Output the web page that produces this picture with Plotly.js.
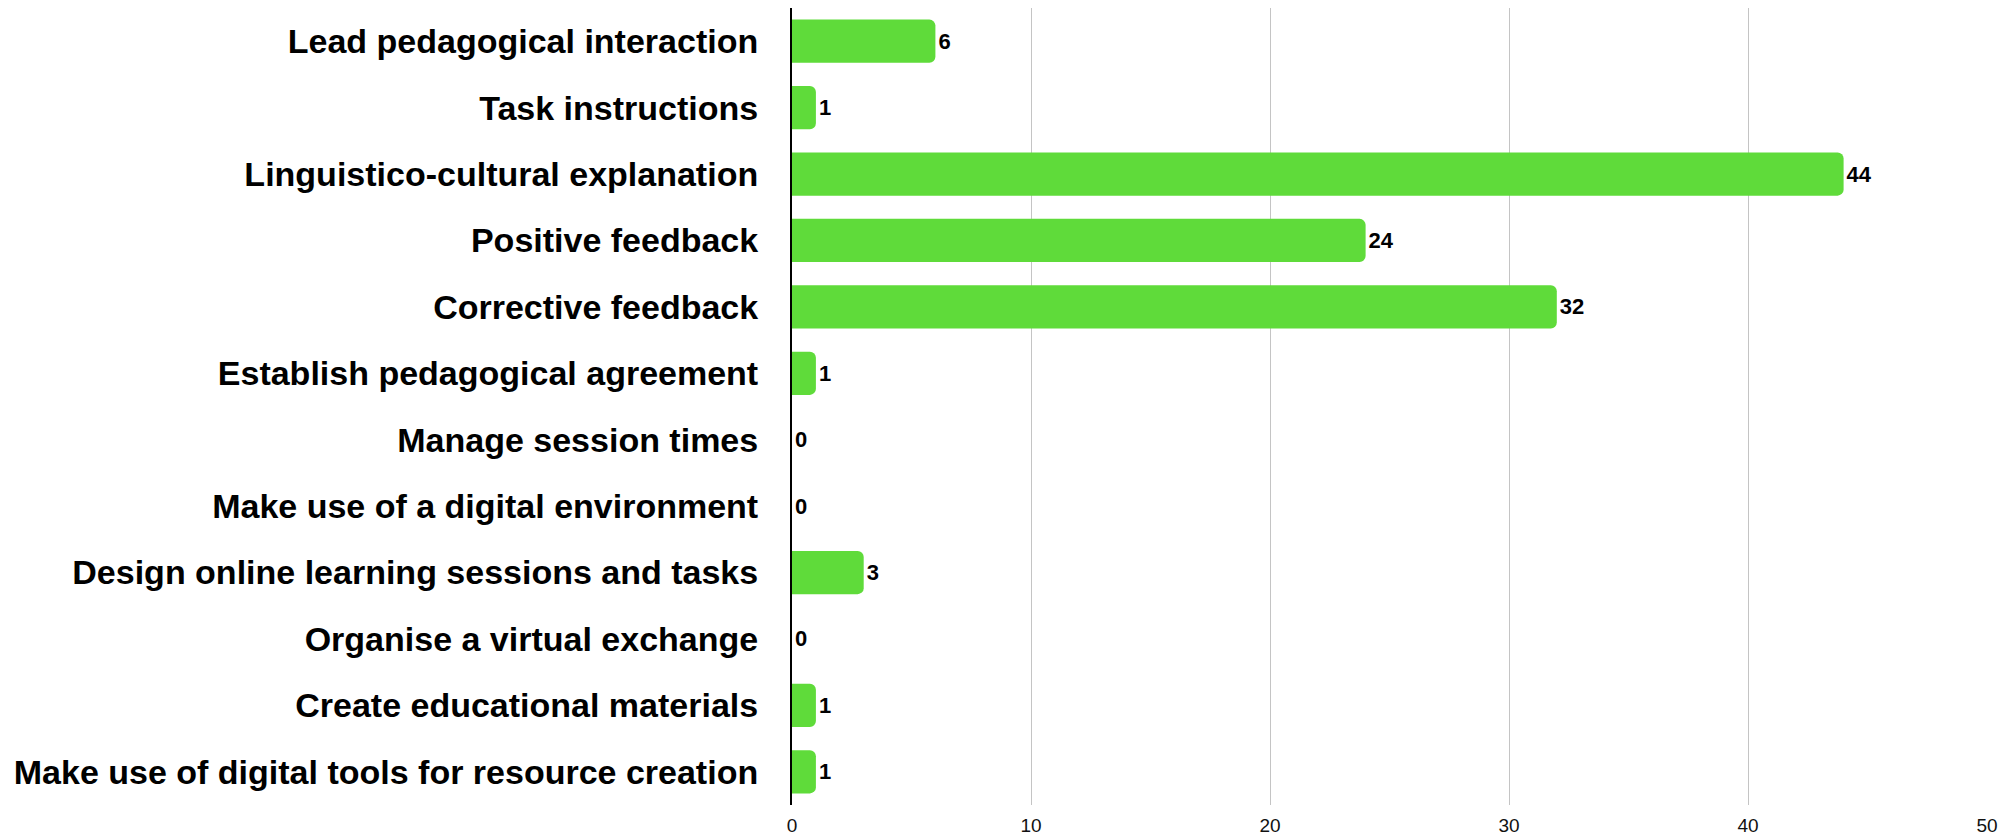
<!DOCTYPE html>
<html>
<head>
<meta charset="utf-8">
<script src="https://cdn.plot.ly/plotly-3.0.1.min.js"></script>
<style>
html,body{margin:0;padding:0;background:#fff;}
#chart{width:2005px;height:838px;}
</style>
</head>
<body>
<div id="chart"></div>
<script>
const categories = [
  "Lead pedagogical interaction",
  "Task instructions",
  "Linguistico-cultural explanation",
  "Positive feedback",
  "Corrective feedback",
  "Establish pedagogical agreement",
  "Manage session times",
  "Make use of a digital environment",
  "Design online learning sessions and tasks",
  "Organise a virtual exchange",
  "Create educational materials",
  "Make use of digital tools for resource creation"
];
const values = [6, 1, 44, 24, 32, 1, 0, 0, 3, 0, 1, 1];
const xTicks = [0, 10, 20, 30, 40, 50];

const trace = {
  type: 'bar',
  orientation: 'h',
  x: values,
  y: categories,
  text: values.map(String),
  textposition: 'outside',
  constraintext: 'none',
  cliponaxis: false,
  textfont: {family: 'Liberation Sans, Arial, sans-serif', size: 22, color: '#000', weight: 'bold'},
  marker: {color: '#5fdb3a', cornerradius: 6, line: {width: 0}},
  hoverinfo: 'x+y'
};

const layout = {
  width: 2005,
  height: 838,
  margin: {l: 792, r: 18, t: 8, b: 33},
  paper_bgcolor: '#fff',
  plot_bgcolor: '#fff',
  showlegend: false,
  bargap: 0.35,
  xaxis: {
    range: [0, 50],
    tickvals: xTicks,
    ticktext: xTicks.map(String),
    showgrid: true,
    gridcolor: '#c4c4c4',
    gridwidth: 1,
    zeroline: false,
    showline: false,
    ticks: '',
    ticklabelstandoff: 7,
    tickfont: {family: 'Liberation Sans, Arial, sans-serif', size: 19, color: '#111'},
    fixedrange: true
  },
  yaxis: {
    autorange: 'reversed',
    showgrid: false,
    zeroline: false,
    showline: true,
    linecolor: '#000',
    linewidth: 2,
    ticks: '',
    ticklabelstandoff: 25,
    tickfont: {family: 'Liberation Sans, Arial, sans-serif', size: 34, color: '#000', weight: 'bold'},
    fixedrange: true
  }
};

Plotly.newPlot('chart', [trace], layout, {displayModeBar: false, staticPlot: true});
</script>
</body>
</html>
